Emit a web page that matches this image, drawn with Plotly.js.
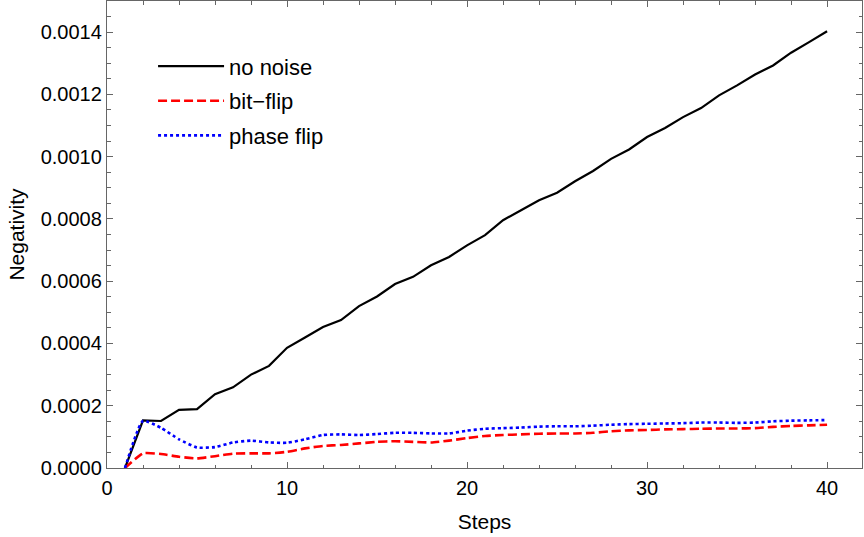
<!DOCTYPE html>
<html>
<head>
<meta charset="utf-8">
<script src="https://cdn.plot.ly/plotly-3.0.1.min.js"></script>
<style>
  html, body { margin: 0; padding: 0; background: #fff; }
  #chart { width: 864px; height: 537px; }
</style>
</head>
<body>
<div id="chart"></div>
<script>
const steps = [1, 2, 3, 4, 5, 6, 7, 8, 9, 10, 11, 12, 13, 14, 15, 16, 17, 18, 19, 20,
  21, 22, 23, 24, 25, 26, 27, 28, 29, 30, 31, 32, 33, 34, 35, 36, 37, 38, 39, 40];

const noNoise = [0, 0.000153, 0.000151, 0.000187, 0.000189, 0.000237, 0.000259, 0.000300, 0.000328, 0.000386,
  0.000419, 0.000453, 0.000475, 0.000520, 0.000551, 0.000591, 0.000614, 0.000651, 0.000678, 0.000715,
  0.000748, 0.000796, 0.000828, 0.000860, 0.000884, 0.000921, 0.000954, 0.000993, 0.001023, 0.001063,
  0.001092, 0.001127, 0.001156, 0.001197, 0.001229, 0.001264, 0.001293, 0.001334, 0.001368, 0.001403];

const bitFlip = [0, 0.000047, 0.000045, 0.000036, 0.000031, 0.000038, 0.000046, 0.000047, 0.000047, 0.000052,
  0.000063, 0.000071, 0.000074, 0.000079, 0.000084, 0.000086, 0.000084, 0.000082, 0.000088, 0.000096,
  0.000103, 0.000106, 0.000108, 0.000110, 0.000111, 0.000111, 0.000113, 0.000118, 0.000121, 0.000122,
  0.000124, 0.000125, 0.000126, 0.000127, 0.000127, 0.000128, 0.000132, 0.000135, 0.000137, 0.000139];

const phaseFlip = [0, 0.000151, 0.000129, 0.000092, 0.000066, 0.000067, 0.000082, 0.000088, 0.000082, 0.000081,
  0.000092, 0.000106, 0.000108, 0.000106, 0.000109, 0.000113, 0.000113, 0.000111, 0.000111, 0.000120,
  0.000126, 0.000128, 0.000130, 0.000133, 0.000134, 0.000134, 0.000136, 0.000139, 0.000141, 0.000142,
  0.000143, 0.000144, 0.000146, 0.000146, 0.000145, 0.000146, 0.000150, 0.000152, 0.000153, 0.000154];

const yTicks = [0, 0.0002, 0.0004, 0.0006, 0.0008, 0.0010, 0.0012, 0.0014];
const yTickText = ["0.0000", "0.0002", "0.0004", "0.0006", "0.0008", "0.0010", "0.0012", "0.0014"];

const font = "Liberation Sans, Arial, sans-serif";

var data = [
  { x: steps, y: noNoise, name: "no noise", mode: "lines", type: "scatter", legendgroup: "a",
    line: { color: "#000000", width: 2.2 } },
  { x: steps, y: bitFlip, name: "bit\u2212flip", mode: "lines", type: "scatter", legendgroup: "b",
    line: { color: "#ff0000", width: 2.6, dash: "9px,4px", shape: "spline", smoothing: 0.5 } },
  { x: steps, y: phaseFlip, name: "phase flip", mode: "lines", type: "scatter", legendgroup: "c",
    line: { color: "#0000ff", width: 2.6, dash: "3px,3px", shape: "spline", smoothing: 0.5 } },
];

const axisCommon = {
  showline: true, linecolor: "#666666", linewidth: 1.2,
  mirror: "ticks", ticks: "inside", ticklen: 6, tickwidth: 1, tickcolor: "#666666",
  showgrid: false, zeroline: false, fixedrange: true,
  tickfont: { family: font, size: 20, color: "#000" },
};

var layout = {
  width: 864,
  height: 537,
  autosize: false,
  hovermode: false,
  paper_bgcolor: "#fff",
  plot_bgcolor: "#fff",
  margin: { l: 107, r: 2, t: 1, b: 69 },
  font: { family: font, color: "#000" },
  xaxis: Object.assign({}, axisCommon, {
    range: [0, 41.94],
    tickvals: [0, 10, 20, 30, 40],
    ticklabelstandoff: 2,
    minor: { dtick: 2, tick0: 0, ticks: "inside", ticklen: 3.5, tickcolor: "#666666" },
    title: { text: "Steps", font: { family: font, size: 21 }, standoff: 16 },
  }),
  yaxis: Object.assign({}, axisCommon, {
    range: [0, 0.0015],
    tickvals: yTicks,
    ticktext: yTickText,
    minor: { dtick: 0.00005, tick0: 0, ticks: "inside", ticklen: 3.5, tickcolor: "#666666" },
    title: { text: "Negativity", font: { family: font, size: 21 }, standoff: 10 },
  }),
  showlegend: true,
  legend: {
    x: 0.061, y: 0.905, xanchor: "left", yanchor: "top",
    bgcolor: "rgba(0,0,0,0)",
    font: { family: font, size: 22, color: "#000" },
    itemwidth: 66,
    traceorder: "grouped",
    tracegroupgap: 3,
  },
};

Plotly.newPlot("chart", data, layout, { displayModeBar: false, staticPlot: true });
</script>
</body>
</html>
